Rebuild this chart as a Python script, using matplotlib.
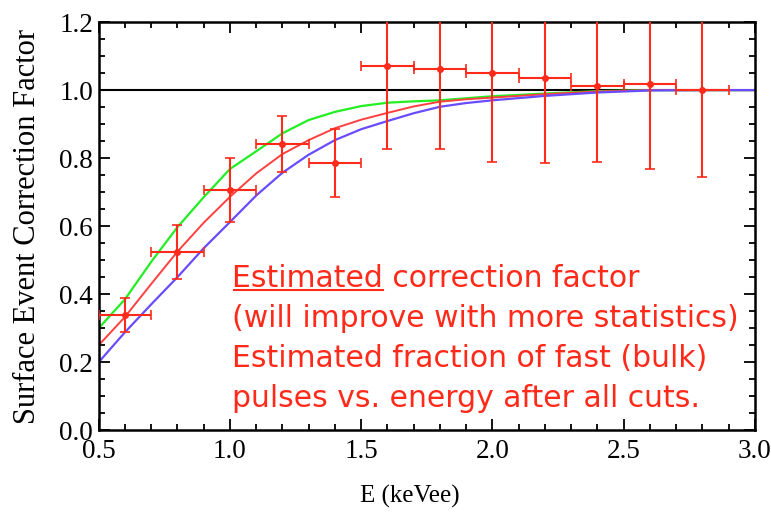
import numpy as np
import matplotlib
matplotlib.use("Agg")
import matplotlib.pyplot as plt
from matplotlib.ticker import MultipleLocator, FormatStrFormatter

# measured points (energy bins, keVee)
e_pts = [0.6, 0.8, 1.0, 1.2, 1.4, 1.6, 1.8, 2.0, 2.2, 2.4, 2.6, 2.8]
corr = [0.34, 0.524, 0.706, 0.841, 0.785, 1.071, 1.062, 1.05, 1.035, 1.012, 1.017, 1.0]
corr_err = [0.05, 0.078, 0.095, 0.083, 0.10, 0.245, 0.236, 0.26, 0.25, 0.222, 0.249, 0.256]
e_err = [0.1] * 12

# fitted curves
e_curve = [0.5, 0.6, 0.7, 0.8, 0.9, 1.0, 1.1, 1.2, 1.3, 1.4, 1.5, 1.6, 1.7,
           1.8, 1.9, 2.0, 2.2, 2.4, 2.6, 2.8, 3.0]
green = [0.30, 0.385, 0.495, 0.597, 0.685, 0.768, 0.82, 0.873, 0.912, 0.936,
         0.953, 0.963, 0.967, 0.970, 0.976, 0.982, 0.990, 0.997, 1.0, 1.0, 1.0]
red = [0.25, 0.333, 0.43, 0.525, 0.61, 0.686, 0.755, 0.812, 0.853, 0.888,
       0.913, 0.933, 0.952, 0.966, 0.973, 0.978, 0.988, 0.996, 1.0, 1.0, 1.0]
blue = [0.20, 0.288, 0.37, 0.45, 0.535, 0.612, 0.69, 0.757, 0.81, 0.853,
        0.885, 0.909, 0.932, 0.951, 0.962, 0.970, 0.983, 0.993, 0.999, 1.0, 1.0]

note_lines = ["Estimated correction factor",
              "(will improve with more statistics)",
              "Estimated fraction of fast (bulk)",
              "pulses vs. energy after all cuts."]

serif = "Liberation Serif"
note_size = 21.5

fig = plt.figure(figsize=(7.71, 5.14), dpi=100)
ax = fig.add_axes([0.128, 0.163, 0.851, 0.794])

ax.axhline(1.0, color="black", lw=1.5, zorder=1)
ax.plot(e_curve, green, color="#22ee22", lw=1.6, zorder=2)
ax.plot(e_curve, red, color="#ff4040", lw=1.4, zorder=2)
ax.plot(e_curve, blue, color="#6a4cff", lw=1.6, zorder=2)

ax.errorbar(e_pts, corr, yerr=corr_err, xerr=e_err, fmt="o", color="#ff2a1a",
            ms=4, elinewidth=1.5, capsize=3.5, capthick=1.2, zorder=3)

ax.set_xlim(0.5, 3.0)
ax.set_ylim(0.0, 1.2)
ax.xaxis.set_major_locator(MultipleLocator(0.5))
ax.xaxis.set_minor_locator(MultipleLocator(0.1))
ax.yaxis.set_major_locator(MultipleLocator(0.2))
ax.yaxis.set_minor_locator(MultipleLocator(0.05))
ax.xaxis.set_major_formatter(FormatStrFormatter("%.1f"))
ax.yaxis.set_major_formatter(FormatStrFormatter("%.1f"))
ax.tick_params(which="both", direction="in", top=True, right=True, width=1.3)
ax.tick_params(which="major", length=8, labelsize=19.5)
ax.tick_params(which="minor", length=4)
ax.tick_params(axis="x", which="major", pad=6)
ax.tick_params(axis="y", which="major", pad=4)
for lab in ax.get_xticklabels() + ax.get_yticklabels():
    lab.set_fontfamily(serif)
for sp in ax.spines.values():
    sp.set_linewidth(1.8)

ax.set_xlabel("E (keVee)", fontfamily=serif, fontsize=18)
ax.xaxis.set_label_coords(0.474, -0.135)
ax.set_ylabel("Surface Event Correction Factor", fontfamily=serif, fontsize=22)
ax.yaxis.set_label_coords(-0.086, 0.5)

baselines = [0.352, 0.254, 0.156, 0.058]
for line, yb in zip(note_lines, baselines):
    ax.text(0.203, yb, line, transform=ax.transAxes, color="#ff2a1a",
            fontsize=note_size, va="baseline", ha="left", fontfamily="DejaVu Sans")

# underline the word "Estimated" in the first line
fig.canvas.draw()
r = fig.canvas.get_renderer()
w = ax.text(0.203, baselines[0], "Estimated", transform=ax.transAxes,
            fontsize=note_size, fontfamily="DejaVu Sans", va="baseline", alpha=0)
bb = w.get_window_extent(r)
inv = fig.transFigure.inverted()
base_y = ax.transAxes.transform((0, baselines[0]))[1]
x0, yline = inv.transform((bb.x0 + 2, base_y - 3))
x1, _ = inv.transform((bb.x1, base_y - 3))
fig.add_artist(plt.Line2D([x0, x1], [yline, yline], color="#ff2a1a", lw=1.5))

fig.savefig("out.png", dpi=100)
